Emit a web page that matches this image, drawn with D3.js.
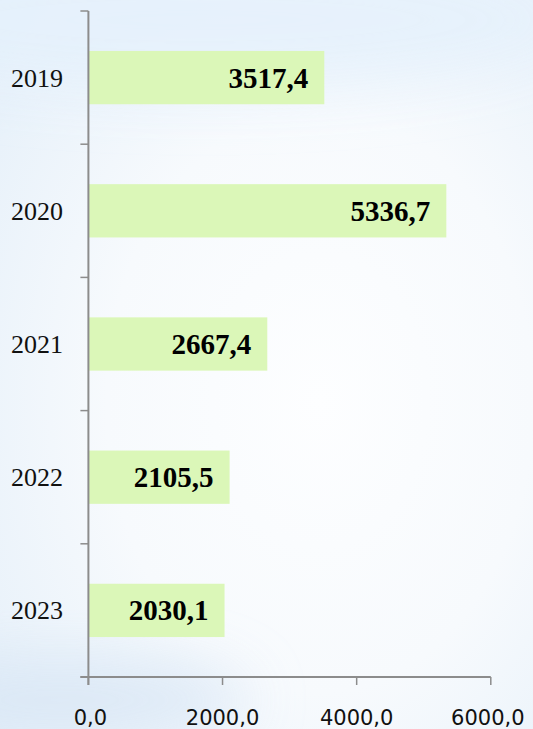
<!DOCTYPE html>
<html><head><meta charset="utf-8">
<script src="https://cdn.jsdelivr.net/npm/d3@7"></script>
<style>html,body{margin:0;padding:0;overflow:hidden;}svg{display:block;}</style>
</head><body>
<svg id="c" width="533" height="729"></svg>
<script>
const years = ["2019","2020","2021","2022","2023"];
const values = [3517.4, 5336.7, 2667.4, 2105.5, 2030.1];
const xTicks = [0, 2000, 4000, 6000];

const svg = d3.select("#c");
const W = 533, H = 729;
const defs = svg.append("defs");
const rg = defs.append("radialGradient").attr("id","bg").attr("cx","0.6").attr("cy","0.55").attr("r","0.8");
rg.append("stop").attr("offset","0").attr("stop-color","#fdfeff");
rg.append("stop").attr("offset","0.5").attr("stop-color","#f7fafd");
rg.append("stop").attr("offset","1").attr("stop-color","#e4eff9");
svg.append("rect").attr("width",W).attr("height",H).attr("fill","url(#bg)");
const blur = defs.append("filter").attr("id","blur").attr("x","-50%").attr("y","-50%").attr("width","200%").attr("height","200%");
blur.append("feGaussianBlur").attr("stdDeviation",30);
svg.append("ellipse").attr("cx",60).attr("cy",700).attr("rx",190).attr("ry",45).attr("fill","#d8e6f5").attr("opacity",0.8).attr("filter","url(#blur)");
svg.append("ellipse").attr("cx",200).attr("cy",20).attr("rx",380).attr("ry",70).attr("fill","#e5f1fc").attr("opacity",0.9).attr("filter","url(#blur)");

const pLeft = 88.4, pRight = 490.8, pTop = 11, pBottom = 677;
const x = d3.scaleLinear().domain([0, 6000]).range([pLeft, pRight]);
const y = d3.scaleBand().domain(years).range([pTop, pBottom]).paddingInner(0.6).paddingOuter(0.3);
const yTickScale = d3.scaleLinear().domain([0, years.length]).range([pTop, pBottom]);

// bars
svg.append("g").selectAll("rect").data(values).join("rect")
  .attr("x", x(0)).attr("y", (d,i)=>y(years[i]))
  .attr("width", d=>x(d)-x(0)).attr("height", y.bandwidth())
  .attr("fill", "#dbf7b8");

const axisColor = "#8c8c8c";
// y axis
const ya = svg.append("g");
ya.append("line").attr("x1",pLeft).attr("x2",pLeft).attr("y1",pTop).attr("y2",pBottom+8).attr("stroke",axisColor).attr("stroke-width",2);
ya.selectAll("line.t").data(d3.range(years.length+1)).join("line").attr("class","t")
  .attr("x1",pLeft-8).attr("x2",pLeft).attr("y1",d=>yTickScale(d)).attr("y2",d=>yTickScale(d))
  .attr("stroke",axisColor).attr("stroke-width",1.5);
ya.selectAll("text").data(years).join("text")
  .attr("x", 63).attr("y", d=>y(d)+y.bandwidth()/2+9)
  .attr("text-anchor","end").attr("font-family","Liberation Serif, serif").attr("font-size",26)
  .attr("fill","#111").text(d=>d);

// x axis
const xa = svg.append("g");
xa.append("line").attr("x1",pLeft-8).attr("x2",pRight).attr("y1",pBottom).attr("y2",pBottom).attr("stroke",axisColor).attr("stroke-width",2);
xa.selectAll("line.t").data(xTicks).join("line").attr("class","t")
  .attr("x1",d=>x(d)).attr("x2",d=>x(d)).attr("y1",pBottom).attr("y2",pBottom+8)
  .attr("stroke",axisColor).attr("stroke-width",1.5);
const fmt = d => d3.format(".1f")(d).replace(".", ",");
xa.selectAll("text").data(xTicks).join("text")
  .attr("x", (d,i)=>x(d) + (i===0?2:0) - (i===xTicks.length-1?3:0)).attr("y", 725)
  .attr("text-anchor","middle").attr("font-family","DejaVu Sans, sans-serif").attr("font-size",21)
  .attr("fill","#111").text(fmt);

// value labels
svg.append("g").selectAll("text").data(values).join("text")
  .attr("x", d=>x(d)-16).attr("y",(d,i)=>y(years[i])+y.bandwidth()/2+10)
  .attr("text-anchor","end").attr("font-family","Liberation Serif, serif").attr("font-weight","bold")
  .attr("font-size",29).attr("fill","#000").text(fmt);
</script>
</body></html>
